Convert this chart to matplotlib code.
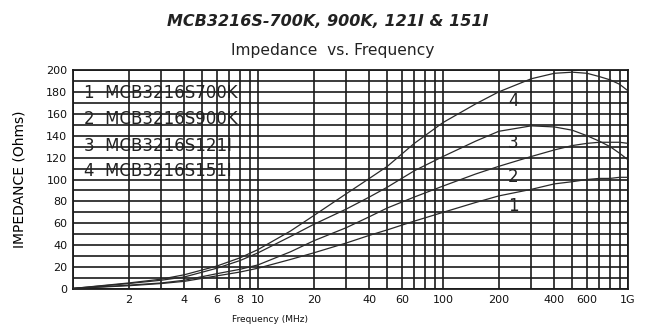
import matplotlib
matplotlib.use("Agg")
import matplotlib.pyplot as plt
from matplotlib.ticker import FixedLocator, NullFormatter

plt.rcParams['font.family'] = ['DejaVu Sans']

# Data
freq = [1, 2, 3, 4, 6, 8, 10, 15, 20, 30, 40, 50, 70, 100, 150, 200, 300, 400, 500, 600, 700, 800, 900, 1000]
imp_700k = [0.5, 3, 5, 7, 12, 15.5, 19, 27, 33, 42, 49, 54, 62, 70, 79, 85, 91, 96, 98, 100, 101, 101, 102, 102]
imp_900k = [0.5, 3.5, 5.5, 8, 14, 18, 22, 34, 44, 56, 66, 74, 84, 94, 105, 112, 121, 127, 131, 133, 134, 134, 134, 133]
imp_121 = [0.5, 5, 8, 11, 19, 26, 33, 48, 59, 73, 84, 93, 108, 121, 135, 144, 149, 148, 145, 140, 135, 130, 124, 118]
imp_151 = [0.5, 5.5, 9, 13, 21, 28.5, 36, 53, 67, 87, 101, 112, 133, 152, 169, 180, 192, 197, 198, 197, 194, 191, 187, 181]

series = [imp_700k, imp_900k, imp_121, imp_151]
curve_ids = ['1', '2', '3', '4']
curve_label_f = [225, 225, 225, 225]
curve_label_v = [76, 102, 133, 172]
legend_lines = ['1  MCB3216S700K', '2  MCB3216S900K', '3  MCB3216S121I', '4  MCB3216S151I']
legend_v = [179, 155, 131, 108]

x_tick_vals = [2, 4, 6, 8, 10, 20, 40, 60, 100, 200, 400, 600, 1000]
x_tick_labels = ['2', '4', '6', '8', '10', '20', '40', '60', '100', '200', '400', '600', '1G']
y_tick_vals = list(range(0, 201, 20))

W, H = 648, 326
fig = plt.figure(figsize=(W / 100, H / 100), dpi=100)
ax = fig.add_axes([73 / W, 1 - 289 / H, (628 - 73) / W, (289 - 70) / H])

ax.set_xscale('log')
ax.set_xlim(1, 1000)
ax.set_ylim(0, 200)

ax.xaxis.set_major_locator(FixedLocator(x_tick_vals))
ax.set_xticklabels(x_tick_labels)
minor_x = [m * d for d in (1, 10, 100) for m in range(1, 10)]
ax.xaxis.set_minor_locator(FixedLocator(minor_x))
ax.xaxis.set_minor_formatter(NullFormatter())
ax.yaxis.set_major_locator(FixedLocator(y_tick_vals))
ax.yaxis.set_minor_locator(FixedLocator(list(range(0, 201, 10))))

ax.grid(which='both', color='#1a1a1a', linewidth=1.2, zorder=1)
ax.tick_params(which='both', length=0, labelsize=8, colors='#111111', pad=4)
for s in ax.spines.values():
    s.set_color('#1a1a1a')
    s.set_linewidth(1.3)

for vals in series:
    ax.plot(freq, vals, color='#2a2a2a', linewidth=0.9, zorder=3)

for cid, f, v in zip(curve_ids, curve_label_f, curve_label_v):
    ax.text(f, v, cid, fontsize=12, ha='left', va='center', color='#222222', zorder=4)

for txt, v in zip(legend_lines, legend_v):
    ax.text(1.15, v, txt, fontsize=12, ha='left', va='center', color='#222222', zorder=4)

ax.set_ylabel('IMPEDANCE (Ohms)', fontsize=10, labelpad=14)
fig.text(270 / W, 1 - 319 / H, 'Frequency (MHz)', fontsize=6.5,
         ha='center', va='center', color='#111111')

fig.text(328 / W, 1 - 22 / H, 'MCB3216S-700K, 900K, 121I & 151I', fontsize=11.5,
         fontweight='bold', fontstyle='italic', ha='center', va='center', color='#222222')
fig.text(333 / W, 1 - 50 / H, 'Impedance  vs. Frequency', fontsize=11.2,
         ha='center', va='center', color='#222222')

fig.savefig('out.png', dpi=100)
